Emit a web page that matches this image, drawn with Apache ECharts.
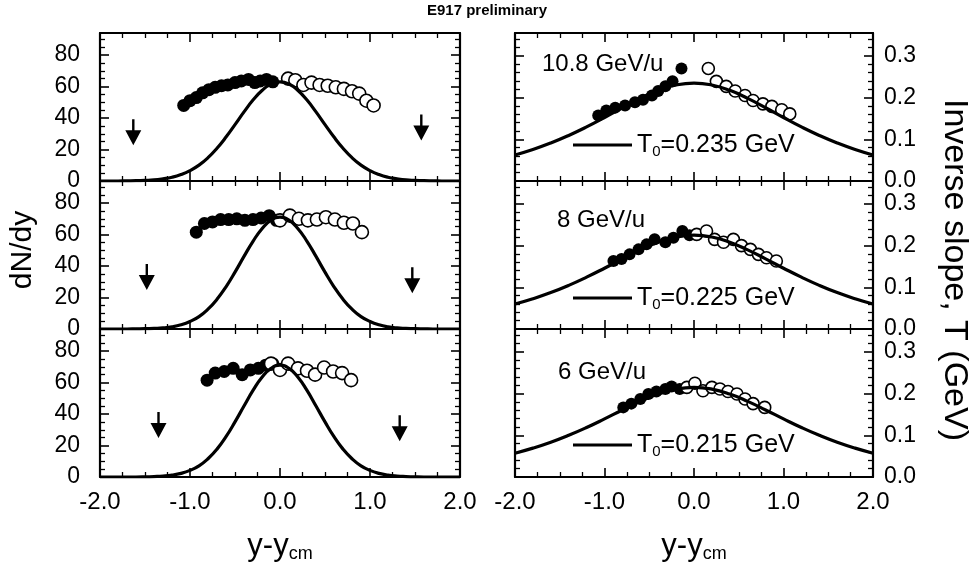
<!DOCTYPE html>
<html>
<head>
<meta charset="utf-8">
<script src="https://cdn.jsdelivr.net/npm/echarts@6/dist/echarts.min.js"></script>
<style>
  html, body { margin: 0; background: #fff; }
  #wrap { position: relative; width: 977px; height: 566px; }
  #chart, #overlay { position: absolute; left: 0; top: 0; width: 977px; height: 566px; }
  #overlay { pointer-events: none; }
</style>
</head>
<body>
<div id="wrap"><div id="chart"></div><div id="overlay"></div></div>
<script>
// ---- data ----
// left column: dN/dy, model curves
const curveXL = [-2.0, -1.9, -1.8, -1.7, -1.6, -1.5, -1.4, -1.3, -1.2, -1.1, -1.0, -0.9, -0.8, -0.7, -0.6, -0.5, -0.4, -0.3, -0.2, -0.1, 0.0,
  0.1, 0.2, 0.3, 0.4, 0.5, 0.6, 0.7, 0.8, 0.9, 1.0, 1.1, 1.2, 1.3, 1.4, 1.5, 1.6, 1.7, 1.8, 1.9, 2.0];
const dndyCurve1 = [0, 0, 0, 0.1, 0.2, 0.4, 0.7, 1.4, 2.4, 4.1, 6.6, 10.1, 14.8, 20.8, 27.9, 35.8, 43.9, 51.4, 57.5, 61.6, 63,
  61.6, 57.5, 51.4, 43.9, 35.8, 27.9, 20.8, 14.8, 10.1, 6.6, 4.1, 2.4, 1.4, 0.7, 0.4, 0.2, 0.1, 0, 0, 0];
const dndyCurve2 = [0, 0, 0, 0, 0.1, 0.2, 0.4, 0.7, 1.4, 2.7, 4.8, 7.9, 12.6, 18.9, 26.8, 36.1, 46.1, 55.7, 63.7, 69.1, 71,
  69.1, 63.7, 55.7, 46.1, 36.1, 26.8, 18.9, 12.6, 7.9, 4.8, 2.7, 1.4, 0.7, 0.4, 0.2, 0.1, 0, 0, 0, 0];
const dndyCurve3 = [0, 0, 0, 0, 0, 0.1, 0.3, 0.6, 1.2, 2.3, 4.2, 7.1, 11.6, 17.7, 25.6, 35.0, 45.1, 55.0, 63.4, 69.0, 71,
  69.0, 63.4, 55.0, 45.1, 35.0, 25.6, 17.7, 11.6, 7.1, 4.2, 2.3, 1.2, 0.6, 0.3, 0.1, 0, 0, 0, 0, 0];

// measured (filled) and reflected (open) points
const fullX1 = [-1.07, -1.0, -0.93, -0.86, -0.79, -0.72, -0.65, -0.58, -0.5, -0.43, -0.35, -0.28, -0.22, -0.15, -0.08];
const fullY1 = [48, 51, 53, 56, 58, 59.5, 60.5, 61, 62.5, 63.5, 64.5, 62.5, 63.5, 64.5, 63];
const openX1 = [0.09, 0.17, 0.26, 0.35, 0.44, 0.53, 0.62, 0.71, 0.8, 0.88, 0.96, 1.04];
const openY1 = [65, 64, 61, 62.5, 61, 60.5, 59.5, 58.5, 57, 55.5, 51, 48];

const fullX2 = [-0.93, -0.84, -0.75, -0.66, -0.57, -0.48, -0.39, -0.30, -0.21, -0.12, -0.04];
const fullY2 = [61.5, 67, 68, 69.5, 69.5, 70, 69, 69.5, 70.5, 72, 69];
const openX2 = [0.0, 0.11, 0.21, 0.31, 0.41, 0.51, 0.61, 0.71, 0.81, 0.91];
const openY2 = [69, 72, 70, 69, 69.5, 71, 69.5, 67.5, 67, 61.5];

const fullX3 = [-0.81, -0.72, -0.62, -0.52, -0.42, -0.33, -0.24, -0.16, -0.08];
const fullY3 = [61.5, 66, 67, 69, 65, 68, 69, 71, 72];
const openX3 = [-0.1, 0.0, 0.09, 0.2, 0.3, 0.39, 0.49, 0.59, 0.69, 0.79];
const openY3 = [72, 68, 72, 69, 67.5, 65, 69.5, 67, 66, 61.5];

// arrows (limits)
const arrowX1 = [-1.63, 1.57], arrowY1 = [31, 34];
const arrowX2 = [-1.48, 1.47], arrowY2 = [33, 31];
const arrowX3 = [-1.35, 1.33], arrowY3 = [33, 31];

// right column: inverse slope
const curveXR = [-2.0, -1.8, -1.6, -1.4, -1.2, -1.0, -0.8, -0.6, -0.4, -0.2, 0.0, 0.2, 0.4, 0.6, 0.8, 1.0, 1.2, 1.4, 1.6, 1.8, 2.0];
const slopeCurve1 = [0.0625, 0.0756, 0.0912, 0.1093, 0.1298, 0.1523, 0.1757, 0.1982, 0.2174, 0.2304, 0.235,
  0.2304, 0.2174, 0.1982, 0.1757, 0.1523, 0.1298, 0.1093, 0.0912, 0.0756, 0.0625];
const slopeCurve2 = [0.0598, 0.0724, 0.0873, 0.1046, 0.1243, 0.1458, 0.1682, 0.1898, 0.2081, 0.2206, 0.225,
  0.2206, 0.2081, 0.1898, 0.1682, 0.1458, 0.1243, 0.1046, 0.0873, 0.0724, 0.0598];
const slopeCurve3 = [0.0571, 0.0692, 0.0834, 0.1000, 0.1187, 0.1393, 0.1608, 0.1814, 0.1989, 0.2108, 0.215,
  0.2108, 0.1989, 0.1814, 0.1608, 0.1393, 0.1187, 0.1000, 0.0834, 0.0692, 0.0571];

const tFullX1 = [-1.07, -0.98, -0.88, -0.77, -0.66, -0.57, -0.47, -0.4, -0.32, -0.24, -0.14];
const tFullY1 = [0.157, 0.169, 0.176, 0.181, 0.189, 0.195, 0.205, 0.216, 0.227, 0.239, 0.27];
const tOpenX1 = [0.16, 0.25, 0.36, 0.46, 0.57, 0.66, 0.77, 0.87, 0.98, 1.07];
const tOpenY1 = [0.27, 0.239, 0.227, 0.216, 0.205, 0.193, 0.185, 0.179, 0.171, 0.161];

const tFullX2 = [-0.9, -0.81, -0.72, -0.62, -0.53, -0.44, -0.32, -0.23, -0.13, -0.05];
const tFullY2 = [0.163, 0.168, 0.179, 0.191, 0.203, 0.215, 0.208, 0.219, 0.235, 0.225];
const tOpenX2 = [0.03, 0.14, 0.23, 0.33, 0.44, 0.53, 0.63, 0.72, 0.81, 0.92];
const tOpenY2 = [0.227, 0.235, 0.215, 0.208, 0.215, 0.2, 0.191, 0.179, 0.171, 0.163];

const tFullX3 = [-0.79, -0.7, -0.6, -0.51, -0.42, -0.32, -0.25, -0.16];
const tFullY3 = [0.167, 0.176, 0.187, 0.199, 0.205, 0.211, 0.217, 0.211];
const tOpenX3 = [-0.08, 0.01, 0.1, 0.2, 0.29, 0.38, 0.48, 0.57, 0.66, 0.79];
const tOpenY3 = [0.215, 0.225, 0.207, 0.215, 0.211, 0.205, 0.199, 0.187, 0.176, 0.167];

const energies = ["10.8 GeV/u", "8 GeV/u", "6 GeV/u"];
const t0Labels = ["0.235", "0.225", "0.215"];

// ---- layout ----
const FONT = "Liberation Sans";
const black = "#000";
const tops = [33, 181, 329];
const panelH = 148;
const dndyMax = 94;
const slopeMax = 0.355;

const zip = (xs, ys) => xs.map((x, i) => [x, ys[i]]);
const arrowPath = "path://M6.8,0 L9.2,0 L9.2,11 L16,11 L8,26 L0,11 L6.8,11 Z";

const leftPanels = [
  [dndyCurve1, zip(fullX1, fullY1), zip(openX1, openY1), zip(arrowX1, arrowY1)],
  [dndyCurve2, zip(fullX2, fullY2), zip(openX2, openY2), zip(arrowX2, arrowY2)],
  [dndyCurve3, zip(fullX3, fullY3), zip(openX3, openY3), zip(arrowX3, arrowY3)],
];
const rightPanels = [
  [slopeCurve1, zip(tFullX1, tFullY1), zip(tOpenX1, tOpenY1)],
  [slopeCurve2, zip(tFullX2, tFullY2), zip(tOpenX2, tOpenY2)],
  [slopeCurve3, zip(tFullX3, tFullY3), zip(tOpenX3, tOpenY3)],
];

// tick positions for drawing ticks through a custom series if the axis ones do not show
function tickItems(yMax, yStep, yMajor) {
  const items = [];
  for (let k = 0; k <= 16; k++) {
    const v = -2 + k * 0.25;
    const len = k % 4 === 0 ? 9 : 5;
    items.push([v, 0, len], [v, 1, len]);
  }
  const n = Math.floor(yMax / yStep + 1e-6);
  for (let k = 0; k <= n; k++) {
    const v = +(k * yStep).toFixed(4);
    const len = Math.abs(v / yMajor - Math.round(v / yMajor)) < 1e-6 ? 9 : 5;
    items.push([v, 2, len], [v, 3, len]);
  }
  return items;
}

function buildOption(variant) {
  const grids = [], xAxes = [], yAxes = [], series = [];
  const label = (show, size, margin, extra) => {
    const l = Object.assign({ show: show, fontSize: size }, extra);
    if (variant.level < 2) l.color = black;
    if (variant.level < 1) { l.fontFamily = FONT; l.margin = margin; }
    return l;
  };
  const axisBase = (split) => ({
    z: 5,
    axisLine: { show: true, onZero: false, lineStyle: { color: black, width: 2.2 } },
    axisTick: { show: !variant.customTicks, inside: true, length: 9, lineStyle: { color: black, width: 1.6 } },
    minorTick: { show: !variant.customTicks, splitNumber: split, length: 5, lineStyle: { color: black, width: 1.3 } },
    splitLine: { show: false },
  });
  const xAxisFor = (g, pos, labels) => Object.assign(axisBase(4), {
    type: "value", gridIndex: g, position: pos, min: -2, max: 2, interval: 1,
    axisLabel: label(labels, 24, 13, { formatter: (v) => v.toFixed(1) }),
  });
  const yAxisFor = (g, pos, max, interval, split, labels, extra, margin) => Object.assign(axisBase(split), {
    type: "value", gridIndex: g, position: pos, min: 0, max: max, interval: interval,
    axisLabel: label(labels, 23, margin, extra),
  });
  const addSeries = (g, yIdx, curveX, curve, full, open, size) => {
    series.push({ type: "line", xAxisIndex: 2 * g, yAxisIndex: yIdx, data: zip(curveX, curve),
      smooth: true, showSymbol: false, lineStyle: { color: black, width: 3.2 } });
    series.push({ type: "scatter", xAxisIndex: 2 * g, yAxisIndex: yIdx, data: full,
      symbolSize: size, itemStyle: { color: black, opacity: 1 } });
    series.push({ type: "scatter", xAxisIndex: 2 * g, yAxisIndex: yIdx, data: open,
      symbolSize: size, itemStyle: { color: "#fff", borderColor: black, borderWidth: 1.6, opacity: 1 } });
  };
  const addTicks = (g, yIdx, yMax, yStep, yMajor) => {
    if (!variant.customTicks) return;
    series.push({
      type: "custom", xAxisIndex: 2 * g, yAxisIndex: yIdx, silent: true, z: 6,
      data: tickItems(yMax, yStep, yMajor),
      renderItem: (params, api) => {
        const v = api.value(0), side = api.value(1), len = api.value(2);
        let x1, y1, x2, y2;
        if (side < 2) {
          const p = api.coord([v, side === 0 ? 0 : yMax]);
          x1 = x2 = p[0]; y1 = p[1]; y2 = side === 0 ? p[1] - len : p[1] + len;
        } else {
          const p = api.coord([side === 2 ? -2 : 2, v]);
          y1 = y2 = p[1]; x1 = p[0]; x2 = side === 2 ? p[0] + len : p[0] - len;
        }
        return { type: "line", shape: { x1: x1, y1: y1, x2: x2, y2: y2 }, style: { stroke: black, lineWidth: len > 6 ? 1.6 : 1.3 } };
      },
    });
  };

  leftPanels.forEach((p, i) => {
    grids.push({ left: 100, top: tops[i], width: 360, height: panelH });
    xAxes.push(xAxisFor(i, "bottom", i === 2), xAxisFor(i, "top", false));
    yAxes.push(yAxisFor(i, "left", dndyMax, 20, 4, true, { showMaxLabel: false }, 20),
      yAxisFor(i, "right", dndyMax, 20, 4, false, {}, 8));
    addSeries(i, 2 * i, curveXL, p[0], p[1], p[2], 13);
    series.push({ type: "scatter", xAxisIndex: 2 * i, yAxisIndex: 2 * i, data: p[3],
      symbol: arrowPath, symbolSize: [16, 26], itemStyle: { color: black, opacity: 1 } });
    addTicks(i, 2 * i, dndyMax, 5, 20);
  });
  rightPanels.forEach((p, i) => {
    const g = 3 + i;
    grids.push({ left: 515, top: tops[i], width: 358, height: panelH });
    xAxes.push(xAxisFor(g, "bottom", i === 2), xAxisFor(g, "top", false));
    yAxes.push(yAxisFor(g, "left", slopeMax, 0.1, 5, false, {}, 8),
      yAxisFor(g, "right", slopeMax, 0.1, 5, true, { showMaxLabel: false, formatter: (v) => v.toFixed(1) }, 11));
    addSeries(g, 2 * g + 1, curveXR, p[0], p[1], p[2], 12);
    addTicks(g, 2 * g + 1, slopeMax, 0.02, 0.1);
  });
  return { animation: false, grid: grids, xAxis: xAxes, yAxis: yAxes, series: series };
}

// looks for a dark tick pixel just inside the left axis of the top-left panel
function ticksVisible(chart) {
  try {
    chart.getZr().refreshImmediately();
    const canvas = chart.getDom().querySelector("canvas");
    const ctx = canvas.getContext("2d");
    const y0 = Math.round(tops[0] + panelH * (1 - 20 / dndyMax));
    const d = ctx.getImageData(103, y0 - 2, 5, 5).data;
    for (let i = 0; i < d.length; i += 4) {
      if (d[i + 3] > 128 && d[i] < 100) return true;
    }
    return false;
  } catch (e) {
    return true;
  }
}

const chart = echarts.init(document.getElementById("chart"));
const variants = [{ level: 0 }, { level: 1 }, { level: 2 }, { level: 0, customTicks: true }];
for (let k = 0; k < variants.length; k++) {
  chart.setOption(buildOption(variants[k]), true);
  if (k === variants.length - 1 || ticksVisible(chart)) break;
}

// ---- text, drawn on a transparent instance on top ----
const graphics = [
  { type: "text", x: 487, y: 11, style: { text: "E917 preliminary", fill: black, font: "bold 15px " + FONT, align: "center", verticalAlign: "middle" } },
  { type: "text", x: 23, y: 250, rotation: Math.PI / 2, style: { text: "dN/dy", fill: black, font: "30px " + FONT, align: "center", verticalAlign: "middle" } },
  { type: "text", x: 954, y: 270, rotation: -Math.PI / 2, style: { text: "Inverse slope, T (GeV)", fill: black, font: "34px " + FONT, align: "center", verticalAlign: "middle" } },
];
[280, 694].forEach((cx) => {
  graphics.push({ type: "text", x: cx, y: 546, style: {
    text: "y-y{s|cm}", fill: black, font: "31px " + FONT, align: "center", verticalAlign: "middle",
    rich: { s: { fontSize: 18, fontFamily: FONT, fill: black, padding: [17, 0, 0, 0] } } } });
});
const labelPos = [{ ex: 542, ey: 64, ly: 145 }, { ex: 557, ey: 220, ly: 298 }, { ex: 558, ey: 372, ly: 445 }];
labelPos.forEach((p, i) => {
  graphics.push({ type: "text", x: p.ex, y: p.ey, style: { text: energies[i], fill: black, font: "24px " + FONT, verticalAlign: "middle" } });
  graphics.push({ type: "line", shape: { x1: 573, y1: p.ly, x2: 632, y2: p.ly }, style: { stroke: black, lineWidth: 3 } });
  graphics.push({ type: "text", x: 637, y: p.ly, style: {
    text: "T{s|0}=" + t0Labels[i] + " GeV", fill: black, font: "25px " + FONT, verticalAlign: "middle",
    rich: { s: { fontSize: 15, fontFamily: FONT, fill: black, padding: [14, 0, 0, 0] } } } });
});
const overlay = echarts.init(document.getElementById("overlay"));
overlay.setOption({ animation: false, graphic: graphics });
</script>
</body>
</html>
